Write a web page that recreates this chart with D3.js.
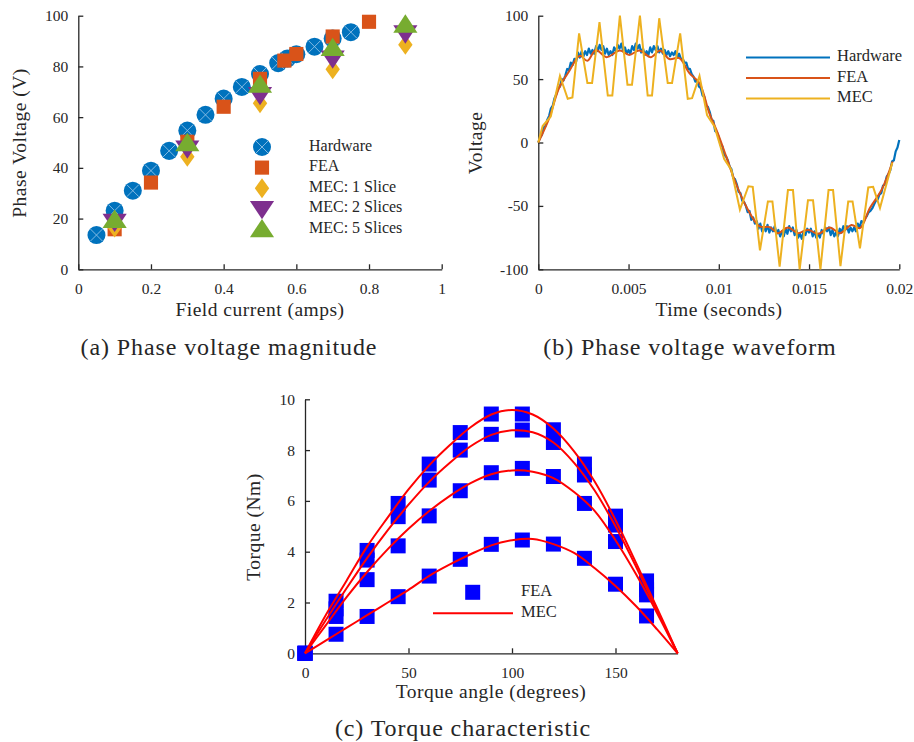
<!DOCTYPE html>
<html>
  <head>
    <meta charset="UTF-8">
    <title>Machine characteristics</title>
    <script src="https://d3js.org/d3.v7.min.js"></script>
    <style>
      body { margin: 0; background: #fff; }
      text { font-family: "Liberation Serif", "Times New Roman", serif; fill: #262626; }
    </style>
  </head>
  <body>
    <script>
      // ---- (a) phase voltage magnitude ----
      const hwCurrent = [0.05, 0.1, 0.15, 0.2, 0.25, 0.3, 0.35, 0.4, 0.45, 0.5, 0.55, 0.575, 0.6, 0.65, 0.7, 0.75];
      const hwVoltage = [13.5, 23.1, 31, 38.9, 46.7, 54.7, 60.9, 67.3, 71.9, 77, 81.3, 83.1, 84.8, 87.8, 91, 93.5];
      const feaCurrent = [0.1, 0.2, 0.3, 0.4, 0.5, 0.567, 0.6, 0.7, 0.8];
      const feaVoltage = [15.8, 34.2, 50.3, 64.1, 75.1, 82.3, 84.9, 91.8, 97.6];
      const mecCurrent = [0.1, 0.3, 0.5, 0.7, 0.9];
      const mec1Voltage = [16.5, 44.4, 65.5, 78.9, 88.5];
      const mec2Voltage = [18.8, 47.7, 68.8, 83.2, 93.1];
      const mec5Voltage = [19.4, 49.7, 72.7, 87.2, 96.4];
      const aXTicks = [0, 0.2, 0.4, 0.6, 0.8, 1];
      const aYTicks = [0, 20, 40, 60, 80, 100];
      const aLegend = ['Hardware', 'FEA', 'MEC: 1 Slice', 'MEC: 2 Slices', 'MEC: 5 Slices'];

      // ---- (b) phase voltage waveform ----
      const hwStep = 0.0001;
      const hwWave = [
        0, 4, 6, 12, 13, 18, 21, 27, 29, 35,
        38, 43, 44, 50, 49, 53, 58, 57, 63, 61,
        66, 64, 71, 67, 72, 68, 72, 69, 74, 70,
        73, 70, 76, 72, 77, 73, 76, 70, 74, 69,
        72, 69, 75, 72, 77, 74, 78, 72, 75, 70,
        73, 70, 76, 73, 78, 74, 77, 71, 74, 69,
        72, 69, 75, 71, 76, 73, 76, 71, 74, 70,
        73, 69, 72, 68, 71, 69, 72, 67, 70, 66,
        66, 63, 63, 58, 58, 54, 52, 48, 49, 44,
        43, 37, 36, 29, 28, 24, 18, 17, 9, 8,
        4, -2, -3, -10, -11, -14, -19, -21, -28, -29,
        -33, -39, -40, -46, -47, -50, -55, -54, -61, -59,
        -64, -62, -68, -64, -70, -66, -70, -65, -71, -67,
        -70, -66, -72, -69, -74, -70, -74, -68, -72, -66,
        -70, -67, -73, -69, -75, -72, -76, -70, -73, -68,
        -71, -68, -74, -70, -75, -72, -75, -69, -72, -67,
        -70, -67, -73, -69, -74, -71, -74, -68, -71, -66,
        -69, -66, -71, -67, -70, -67, -70, -64, -67, -62,
        -63, -60, -58, -55, -54, -52, -49, -46, -45, -41,
        -40, -34, -33, -27, -25, -22, -15, -14, -7, -4,
        2
      ];
      const feaTime = [0, 0.0006, 0.00115, 0.0017, 0.0023, 0.00272, 0.00319, 0.00378, 0.00452, 0.00504,
        0.00559, 0.00624, 0.00674, 0.00726, 0.00781, 0.00837, 0.00893, 0.00948, 0.00994, 0.01041,
        0.01087, 0.01152, 0.01226, 0.01282, 0.01328, 0.01383, 0.01439, 0.01494, 0.0155, 0.01615,
        0.01671, 0.01735, 0.01782, 0.01837, 0.01902, 0.01963];
      const feaWave = [0, 19, 43, 56, 68.4, 64.4, 73, 67.3, 72.6, 69,
        72.6, 67.3, 72.6, 65.8, 66.6, 54.7, 46.8, 23, 7.4, -11,
        -29.4, -50.5, -66.2, -66.7, -71.5, -67, -71.5, -68.8, -72, -67,
        -71.5, -65, -67.5, -51.7, -37.3, -15];
      const mecTime = [0, 0.00024, 0.00069, 0.0012, 0.00163, 0.00189, 0.00226, 0.00272, 0.00298, 0.00339,
        0.00385, 0.0041, 0.00452, 0.00494, 0.00519, 0.00563, 0.00606, 0.0063, 0.0067, 0.00717,
        0.00741, 0.00786, 0.00828, 0.00852, 0.00893, 0.00935, 0.00976, 0.0103, 0.01069, 0.01117,
        0.01164, 0.01188, 0.01228, 0.01272, 0.01297, 0.01337, 0.01383, 0.01411, 0.01448, 0.01494,
        0.01522, 0.01563, 0.01608, 0.01633, 0.01674, 0.01717, 0.01741, 0.01782, 0.01828, 0.01855,
        0.01893, 0.01961];
      const mecWave = [0, 13, 20.5, 52.5, 34.5, 35.5, 86, 47, 47, 95,
        37, 37, 100, 45.5, 45.5, 100, 37, 37, 98, 47,
        47, 86, 34.5, 35, 52.5, 21.5, 12.6, -13, -21.5, -53,
        -34.5, -35, -85, -46.5, -46.5, -98, -37.5, -37.5, -100, -45.5,
        -45.5, -100, -37.5, -37.5, -97.5, -46.5, -46.5, -83.5, -35.5, -35,
        -51.7, -16];
      const bXTicks = [0, 0.005, 0.01, 0.015, 0.02];
      const bYTicks = [-100, -50, 0, 50, 100];
      const bLegend = ['Hardware', 'FEA', 'MEC'];

      // ---- (c) torque characteristic ----
      const feaAngle = [0, 15, 30, 45, 60, 75, 90, 105, 120, 135, 150, 165];
      const feaTorque = [
        [0, 2.05, 4.05, 5.9, 7.45, 8.69, 9.42, 9.42, 8.8, 7.45, 5.4, 2.85],
        [0, 1.75, 3.67, 5.38, 6.82, 8.0, 8.62, 8.79, 8.3, 7.02, 5.05, 2.5],
        [0, 1.45, 2.9, 4.23, 5.41, 6.4, 7.11, 7.28, 6.96, 5.9, 4.4, 2.3],
        [0, 0.75, 1.45, 2.23, 3.04, 3.7, 4.29, 4.46, 4.3, 3.74, 2.72, 1.47]
      ];
      const mecAngle = [0, 10, 20, 30, 40, 50, 60, 70, 80, 90, 100, 110, 120, 130, 140, 150, 160, 170, 180];
      const mecTorque = [
        [0, 1.5, 2.85, 4.2, 5.35, 6.45, 7.4, 8.2, 8.9, 9.4, 9.58, 9.4, 8.85, 7.95, 6.75, 5.25, 3.55, 1.8, 0],
        [0, 1.3, 2.55, 3.75, 4.85, 5.85, 6.75, 7.5, 8.15, 8.6, 8.78, 8.7, 8.3, 7.5, 6.4, 5.0, 3.4, 1.7, 0],
        [0, 1.1, 2.2, 3.2, 4.1, 4.9, 5.6, 6.2, 6.7, 7.05, 7.2, 7.15, 6.9, 6.35, 5.6, 4.45, 3.1, 1.6, 0],
        [0, 0.5, 1.0, 1.5, 2.0, 2.5, 3.05, 3.5, 3.9, 4.25, 4.45, 4.5, 4.3, 3.95, 3.35, 2.65, 1.85, 0.95, 0]
      ];
      const cXTicks = [0, 50, 100, 150];
      const cYTicks = [0, 2, 4, 6, 8, 10];
      const cLegend = ['FEA', 'MEC'];

      const colors = ['#0072BD', '#D95319', '#EDB120', '#7E2F8E', '#77AC30'];
      const axisColor = '#262626';
      const serif = '"Liberation Serif", "Times New Roman", serif';

      const svg = d3.select('body').append('svg')
        .attr('width', 914)
        .attr('height', 742);

      function drawAxes(g, x, y, xTicks, yTicks) {
        const xa = g.append('g')
          .attr('transform', `translate(0,${y.range()[0]})`)
          .call(d3.axisBottom(x).tickValues(xTicks).tickFormat(d => String(d))
            .tickSizeInner(-5).tickSizeOuter(0).tickPadding(14));
        const ya = g.append('g')
          .attr('transform', `translate(${x.range()[0]},0)`)
          .call(d3.axisLeft(y).tickValues(yTicks).tickFormat(d => String(d))
            .tickSizeInner(-5).tickSizeOuter(0).tickPadding(10));
        [xa, ya].forEach(a => {
          a.selectAll('path, line').attr('stroke', axisColor).attr('stroke-width', 1.3);
          a.selectAll('text')
            .attr('fill', '#333')
            .style('font-family', serif)
            .style('font-size', '15.5px');
        });
      }

      function label(text, x, y, size, rotate) {
        const t = svg.append('text')
          .attr('x', x).attr('y', y)
          .attr('text-anchor', 'middle')
          .attr('dominant-baseline', 'middle')
          .attr('fill', '#333')
          .style('font-family', serif)
          .style('font-size', size + 'px')
          .style('letter-spacing', size > 20 ? '0.9px' : '0.5px')
          .text(text);
        if (rotate) t.attr('transform', `rotate(-90,${x},${y})`);
        return t;
      }

      // marker shapes used in (a)
      const sym = {
        circle: d3.symbol().type(d3.symbolCircle).size(255),
        square: d3.symbol().type(d3.symbolSquare).size(200),
        diamond: p => `M0,${-p}L${p * 0.72},0L0,${p}L${-p * 0.72},0Z`,
        up: p => `M0,${-p}L${p * 1.15},${p * 0.75}L${-p * 1.15},${p * 0.75}Z`,
        down: p => `M0,${p}L${p * 1.15},${-p * 0.75}L${-p * 1.15},${-p * 0.75}Z`
      };

      function drawMarker(g, kind, cx, cy, color) {
        const m = g.append('g').attr('transform', `translate(${cx},${cy})`);
        if (kind === 'circle') {
          m.append('path').attr('d', sym.circle()).attr('fill', color);
          const r = 6;
          m.append('path').attr('d', `M${-r},${-r}L${r},${r}M${-r},${r}L${r},${-r}`)
            .attr('stroke', '#8fc1e6').attr('stroke-width', 0.9);
        } else if (kind === 'square') {
          m.append('path').attr('d', sym.square()).attr('fill', color);
        } else if (kind === 'diamond') {
          m.append('path').attr('d', sym.diamond(10)).attr('fill', color);
        } else if (kind === 'up') {
          m.append('path').attr('d', sym.up(10.5)).attr('fill', color);
        } else {
          m.append('path').attr('d', sym.down(10.5)).attr('fill', color);
        }
      }

      // ================= panel (a) =================
      const ax = d3.scaleLinear().domain([0, 1]).range([78.3, 441.7]);
      const ay = d3.scaleLinear().domain([0, 100]).range([269.3, 15.7]);
      const ga = svg.append('g');
      drawAxes(ga, ax, ay, aXTicks, aYTicks);

      const aSeries = [
        { kind: 'circle', xs: hwCurrent, ys: hwVoltage },
        { kind: 'square', xs: feaCurrent, ys: feaVoltage },
        { kind: 'diamond', xs: mecCurrent, ys: mec1Voltage },
        { kind: 'down', xs: mecCurrent, ys: mec2Voltage },
        { kind: 'up', xs: mecCurrent, ys: mec5Voltage }
      ];
      aSeries.forEach((s, i) => {
        s.xs.forEach((v, j) => drawMarker(ga, s.kind, ax(v), ay(s.ys[j]), colors[i]));
      });

      aLegend.forEach((name, i) => {
        const ly = 147 + i * 20.6;
        drawMarker(ga, aSeries[i].kind, 262, ly, colors[i]);
        ga.append('text')
          .attr('x', 309).attr('y', ly)
          .attr('dominant-baseline', 'middle')
          .style('font-family', serif)
          .style('font-size', '16px')
          .text(name);
      });

      label('Phase Voltage (V)', 22, 143, 19.5, true);
      label('Field current (amps)', 260, 312, 19.5);
      label('(a) Phase voltage magnitude', 229, 349, 24);

      // ================= panel (b) =================
      const bx = d3.scaleLinear().domain([0, 0.02]).range([538.3, 899.3]);
      const by = d3.scaleLinear().domain([-100, 100]).range([269.3, 15.7]);
      const gb = svg.append('g');
      drawAxes(gb, bx, by, bXTicks, bYTicks);

      const hwLine = d3.line().x((d, i) => bx(i * hwStep)).y(d => by(d));
      const feaLine = d3.line().x((d, i) => bx(feaTime[i])).y(d => by(d)).curve(d3.curveCatmullRom);
      const mecLine = d3.line().x((d, i) => bx(mecTime[i])).y(d => by(d));

      gb.append('path').attr('d', hwLine(hwWave))
        .attr('fill', 'none').attr('stroke', colors[0]).attr('stroke-width', 2.2)
        .attr('stroke-linejoin', 'round');
      gb.append('path').attr('d', feaLine(feaWave))
        .attr('fill', 'none').attr('stroke', colors[1]).attr('stroke-width', 2);
      gb.append('path').attr('d', mecLine(mecWave))
        .attr('fill', 'none').attr('stroke', colors[2]).attr('stroke-width', 2);

      bLegend.forEach((name, i) => {
        const ly = 57.5 + i * 20.5;
        gb.append('line')
          .attr('x1', 746).attr('x2', 830).attr('y1', ly).attr('y2', ly)
          .attr('stroke', colors[i]).attr('stroke-width', 2.2);
        gb.append('text')
          .attr('x', 837).attr('y', ly)
          .attr('dominant-baseline', 'middle')
          .style('font-family', serif)
          .style('font-size', '16.5px')
          .text(name);
      });

      label('Voltage', 478, 143, 19.5, true);
      label('Time (seconds)', 719, 312, 19.5);
      label('(b) Phase voltage waveform', 690, 349, 24);

      // ================= panel (c) =================
      const cx = d3.scaleLinear().domain([0, 180]).range([305, 677.6]);
      const cy = d3.scaleLinear().domain([0, 10]).range([653.3, 399.3]);
      const gc = svg.append('g');
      drawAxes(gc, cx, cy, cXTicks, cYTicks);

      const sq = 15;
      feaTorque.forEach(row => {
        gc.append('g').selectAll('rect')
          .data(row)
          .join('rect')
          .attr('x', (d, i) => cx(feaAngle[i]) - sq / 2)
          .attr('y', d => cy(d) - sq / 2)
          .attr('width', sq).attr('height', sq)
          .attr('fill', '#0000FF');
      });

      const torqueLine = d3.line()
        .x((d, i) => cx(mecAngle[i]))
        .y(d => cy(d))
        .curve(d3.curveCatmullRom);
      mecTorque.forEach(row => {
        gc.append('path').attr('d', torqueLine(row))
          .attr('fill', 'none').attr('stroke', '#FF0000').attr('stroke-width', 2);
      });

      gc.append('rect')
        .attr('x', 472.7 - sq / 2).attr('y', 592.3 - sq / 2)
        .attr('width', sq).attr('height', sq).attr('fill', '#0000FF');
      gc.append('line')
        .attr('x1', 433).attr('x2', 513).attr('y1', 613.3).attr('y2', 613.3)
        .attr('stroke', '#FF0000').attr('stroke-width', 2);
      cLegend.forEach((name, i) => {
        gc.append('text')
          .attr('x', 521).attr('y', 592.3 + i * 21)
          .attr('dominant-baseline', 'middle')
          .style('font-family', serif)
          .style('font-size', '16.5px')
          .text(name);
      });

      label('Torque (Nm)', 256, 527, 19.5, true);
      label('Torque angle (degrees)', 491, 694, 19.5);
      label('(c) Torque characteristic', 463, 730, 24);
    </script>
  </body>
</html>
